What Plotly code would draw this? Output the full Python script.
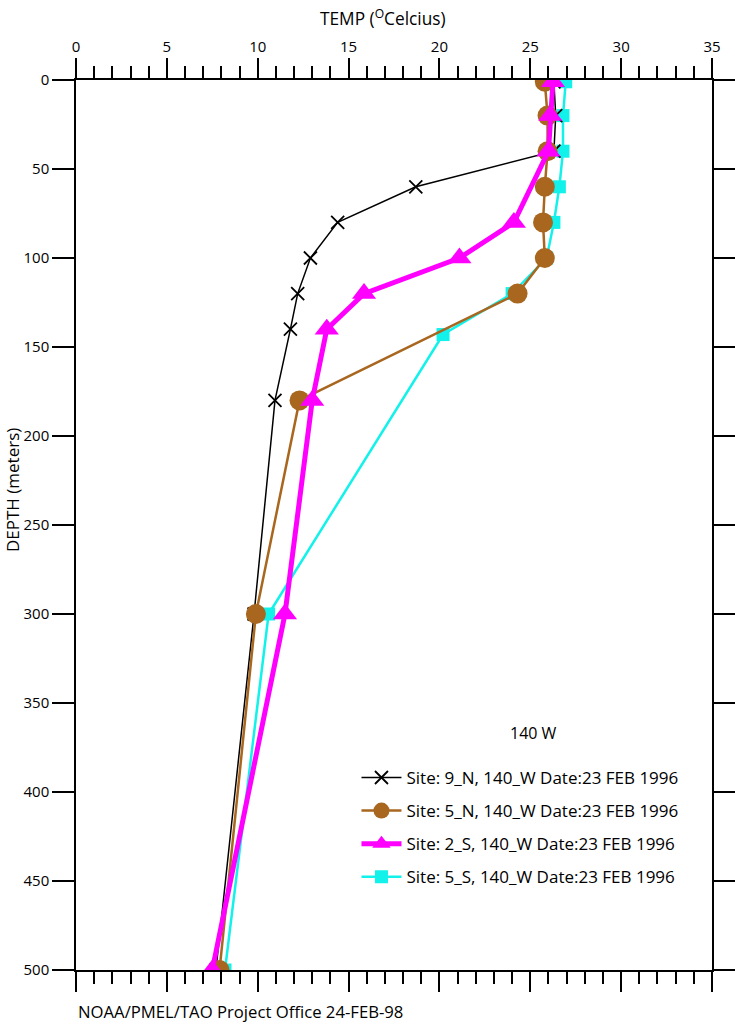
import plotly.graph_objects as go

# ---- data ----
depth_9n = [1, 20, 40, 60, 80, 100, 120, 140, 180, 300, 500]
temp_9n = [26.3, 26.4, 26.3, 18.7, 14.4, 12.9, 12.2, 11.8, 10.95, 9.8, 7.7]

depth_5n = [1, 20, 40, 60, 80, 100, 120, 180, 300, 500]
temp_5n = [25.8, 25.95, 25.95, 25.8, 25.7, 25.8, 24.3, 12.3, 9.9, 7.9]

depth_2s = [1, 20, 40, 80, 100, 120, 140, 180, 300, 500]
temp_2s = [26.25, 26.1, 26.0, 24.1, 21.1, 15.85, 13.8, 13.0, 11.5, 7.5]

depth_5s = [1, 20, 40, 60, 80, 100, 120, 143, 300, 500]
temp_5s = [26.95, 26.8, 26.8, 26.6, 26.3, 25.9, 24.0, 20.2, 10.6, 8.2]

names = [
    "Site: 9_N, 140_W Date:23 FEB 1996",
    "Site: 5_N, 140_W Date:23 FEB 1996",
    "Site: 2_S, 140_W Date:23 FEB 1996",
    "Site: 5_S, 140_W Date:23 FEB 1996",
]

FONT = "Open Sans"
BROWN = "#a8661f"
MAGENTA = "#ff00ff"
CYAN = "#12f2ea"

fig = go.Figure()

# drawing order: cyan, black, brown, magenta ; legend order via legendrank
fig.add_trace(go.Scatter(
    x=temp_5s, y=depth_5s, mode="lines+markers", name=names[3], legendrank=4,
    legendgroup="g3",
    line=dict(color=CYAN, width=2.5),
    marker=dict(symbol="square", size=13, color=CYAN),
))
fig.add_trace(go.Scatter(
    x=temp_9n, y=depth_9n, mode="lines+markers", name=names[0], legendrank=1,
    legendgroup="g0",
    line=dict(color="black", width=1.5),
    marker=dict(symbol="x-thin", size=13, color="black",
                line=dict(color="black", width=1.8)),
))
fig.add_trace(go.Scatter(
    x=temp_5n, y=depth_5n, mode="lines+markers", name=names[1], legendrank=2,
    legendgroup="g1",
    line=dict(color=BROWN, width=2.5),
    marker=dict(symbol="circle", size=20, color=BROWN),
))
fig.add_trace(go.Scatter(
    x=temp_2s, y=depth_2s, mode="lines+markers", name=names[2], legendrank=3,
    legendgroup="g2",
    line=dict(color=MAGENTA, width=5),
    marker=dict(symbol="triangle-up", size=21, color=MAGENTA),
))
# invisible trace to carry the bottom x axis
fig.add_trace(go.Scatter(x=[0, 35], y=[500, 500], xaxis="x2", mode="lines",
                         line=dict(width=0), showlegend=False, hoverinfo="skip"))

tickfont = dict(family=FONT, size=15, color="black")

fig.update_layout(
    width=735, height=1024,
    margin=dict(l=76, r=23, t=80, b=54, autoexpand=False),
    paper_bgcolor="white", plot_bgcolor="white",
    font=dict(family=FONT, color="black"),
    xaxis=dict(
        side="top", range=[0, 35], dtick=5, tick0=0, automargin=False,
        showgrid=False, zeroline=False,
        showline=True, linecolor="black", linewidth=1.5,
        ticks="outside", ticklen=20, tickwidth=1.5, tickcolor="black",
        tickfont=tickfont,
        minor=dict(dtick=1, ticks="outside", ticklen=12, tickwidth=1.5,
                   tickcolor="black", showgrid=False),
    ),
    xaxis2=dict(
        overlaying="x", side="bottom", anchor="y", matches="x", automargin=False,
        range=[0, 35], dtick=5, tick0=0,
        showgrid=False, zeroline=False, showticklabels=False,
        showline=True, linecolor="black", linewidth=1.5,
        ticks="outside", ticklen=20, tickwidth=1.5, tickcolor="black",
        minor=dict(dtick=1, ticks="outside", ticklen=12, tickwidth=1.5,
                   tickcolor="black", showgrid=False),
    ),
    yaxis=dict(
        range=[500, 0], dtick=50, tick0=0, automargin=False,
        showgrid=False, zeroline=False,
        showline=True, linecolor="black", linewidth=1.5, mirror="ticks",
        ticks="outside", ticklen=22, tickwidth=1.5, tickcolor="black",
        tickfont=tickfont,
    ),
    legend=dict(
        x=0.441, y=0.236, xanchor="left", yanchor="top",
        bgcolor="rgba(0,0,0,0)", borderwidth=0,
        font=dict(family=FONT, size=17, color="black"),
        tracegroupgap=8,
        itemwidth=40,
    ),
    showlegend=True,
)

fig.add_annotation(text="TEMP (<sup>O</sup>Celcius)", xref="paper", yref="paper",
                   x=(383 - 76) / 636, y=(970 - 17) / 890, xanchor="center", yanchor="middle",
                   showarrow=False, font=dict(family=FONT, size=17.3, color="black"))
fig.add_annotation(text="DEPTH (meters)", textangle=-90, xref="paper", yref="paper",
                   x=(12 - 76) / 636, y=(970 - 490) / 890, xanchor="center", yanchor="middle",
                   showarrow=False, font=dict(family=FONT, size=17, color="black"))
fig.add_annotation(text="140 W", xref="paper", yref="paper",
                   x=(533 - 76) / 636, y=(970 - 733) / 890, xanchor="center", yanchor="middle",
                   showarrow=False, font=dict(family=FONT, size=16, color="black"))
fig.add_annotation(text="NOAA/PMEL/TAO Project Office 24-FEB-98", xref="paper", yref="paper",
                   x=0, y=(970 - 1011) / 890, xanchor="left", yanchor="middle", showarrow=False,
                   font=dict(family=FONT, size=16.7, color="black"))

# remove the default page margin so the figure sits at the window's top-left corner
fig.write_html("out.html", config={"displayModeBar": False},
               post_script="document.body.style.margin='0';document.body.style.overflow='hidden';")
